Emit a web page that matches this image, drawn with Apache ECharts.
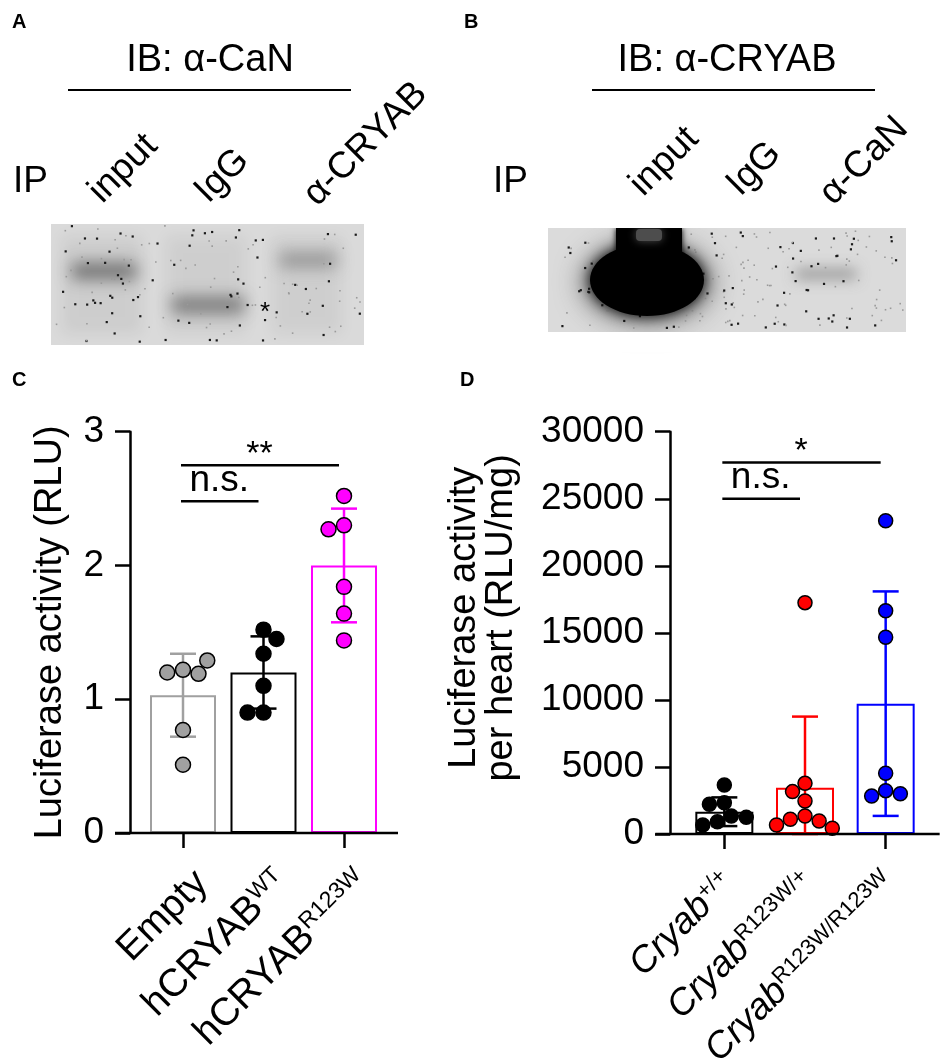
<!DOCTYPE html>
<html>
<head>
<meta charset="utf-8">
<script src="https://cdn.jsdelivr.net/npm/echarts@6.0.0/dist/echarts.min.js"></script>
<style>
  html, body { margin: 0; padding: 0; background: #fff; }
  #main { width: 945px; height: 1064px; }
</style>
</head>
<body>
<div id="main"></div>
<script>
// ---- panel C: luciferase activity in cells (RLU) ----
const luxCategories = ['Empty', 'hCRYAB WT', 'hCRYAB R123W'];
const luxLabelMain = ['Empty', 'hCRYAB', 'hCRYAB'];
const luxLabelSup = ['', 'WT', 'R123W'];
const luxEmpty = [1.22, 1.20, 1.19, 1.29, 0.77, 0.51];
const luxWT = [1.52, 1.45, 1.34, 1.10, 0.90, 0.90];
const luxR123W = [2.52, 2.30, 2.27, 1.84, 1.64, 1.44];
const luxMean = [1.03, 1.20, 2.00];
const luxSD = [0.31, 0.27, 0.425];
const luxTicks = [0, 1, 2, 3];
const luxSigPairs = [[0, 2], [0, 1]];
const luxSigLevels = [2.75, 2.48];
const luxSigLabels = ['**', 'n.s.'];

// ---- panel D: luciferase activity per heart (RLU/mg) ----
const heartCategories = ['Cryab +/+', 'Cryab R123W/+', 'Cryab R123W/R123W'];
const heartLabelMain = ['Cryab', 'Cryab', 'Cryab'];
const heartLabelSup = ['+/+', 'R123W/+', 'R123W/R123W'];
const heartWT = [3650, 2330, 2220, 1340, 1240, 920, 670];
const heartHet = [17250, 3780, 3160, 2460, 1340, 1100, 970, 670, 430];
const heartHom = [23360, 16650, 14670, 4530, 3230, 2830, 3000];
const heartMean = [1660, 3455, 9720];
const heartSD = [1070, 5300, 8370];
const heartTicks = [0, 5000, 10000, 15000, 20000, 25000, 30000];
const heartSigPairs = [[0, 2], [0, 1]];
const heartSigLevels = [27700, 25000];
const heartSigLabels = ['*', 'n.s.'];

const FONT = "'Liberation Sans', Arial, Helvetica, sans-serif";
const luxColors = ['#a0a0a0', '#000000', '#ff00ff'];
const heartColors = ['#000000', '#ff0000', '#0000ff'];

const chart = echarts.init(document.getElementById('main'), null, { renderer: 'canvas' });

function xAxisFor(gridIndex, cats) {
  return {
    gridIndex: gridIndex,
    type: 'category',
    data: cats,
    jitter: 58,
    jitterOverlap: false,
    jitterMargin: 1,
    axisLine: { show: false },
    axisTick: { show: true, alignWithLabel: true, length: 15, lineStyle: { color: '#000', width: 2.5 } },
    axisLabel: { show: false },
    splitLine: { show: false }
  };
}

function yAxisFor(gridIndex, ticks, name, offset, nameGap, namePad) {
  return {
    gridIndex: gridIndex,
    type: 'value',
    min: ticks[0],
    max: ticks[ticks.length - 1],
    interval: ticks[1] - ticks[0],
    offset: offset,
    name: name,
    nameLocation: 'middle',
    nameRotate: 90,
    nameGap: nameGap,
    nameTextStyle: { fontFamily: FONT, fontSize: 38, lineHeight: 37, color: '#000', padding: namePad },
    axisLine: { show: true, lineStyle: { color: '#000', width: 2.5 } },
    axisTick: { show: true, length: 15, lineStyle: { color: '#000', width: 2.5 } },
    axisLabel: { fontFamily: FONT, fontSize: 37, color: '#000', margin: 26, formatter: v => String(v) },
    splitLine: { show: false }
  };
}

function barSeries(axisIndex, means, colors, width) {
  return {
    type: 'bar',
    xAxisIndex: axisIndex, yAxisIndex: axisIndex,
    barWidth: width,
    z: 2,
    data: means.map((m, i) => ({ value: m, itemStyle: { color: '#fff', borderColor: colors[i], borderWidth: 2 } }))
  };
}

function errorSeries(axisIndex, means, sds, colors) {
  return {
    type: 'custom',
    xAxisIndex: axisIndex, yAxisIndex: axisIndex,
    z: 3,
    data: means.map((m, i) => [i, m, sds[i]]),
    encode: { x: 0, y: 1 },
    renderItem: (params, api) => {
      const i = api.value(0), m = api.value(1), sd = api.value(2);
      const top = api.coord([i, m + sd]);
      const bot = api.coord([i, Math.max(0, m - sd)]);
      const hw = 13;
      const st = { stroke: colors[params.dataIndex], lineWidth: 2.5 };
      return {
        type: 'group',
        children: [
          { type: 'line', shape: { x1: top[0], y1: top[1], x2: bot[0], y2: bot[1] }, style: st },
          { type: 'line', shape: { x1: top[0] - hw, y1: top[1], x2: top[0] + hw, y2: top[1] }, style: st },
          { type: 'line', shape: { x1: bot[0] - hw, y1: bot[1], x2: bot[0] + hw, y2: bot[1] }, style: st }
        ]
      };
    }
  };
}

function dotSeries(axisIndex, catIndex, values, color, size) {
  return {
    type: 'scatter',
    xAxisIndex: axisIndex, yAxisIndex: axisIndex,
    z: 4,
    symbolSize: size,
    itemStyle: { color: color, borderColor: '#000', borderWidth: 1.5, opacity: 1 },
    data: values.map(v => [catIndex, v])
  };
}

function sigSeries(axisIndex, pairs, levels, labels) {
  return {
    type: 'custom',
    xAxisIndex: axisIndex, yAxisIndex: axisIndex,
    z: 5,
    data: pairs.map((p, i) => [p[0], p[1], levels[i]]),
    encode: { x: 0, y: 2 },
    renderItem: (params, api) => {
      const a = api.coord([api.value(0), api.value(2)]);
      const b = api.coord([api.value(1), api.value(2)]);
      const label = labels[params.dataIndex];
      const star = label.indexOf('*') >= 0;
      return {
        type: 'group',
        children: [
          { type: 'line', shape: { x1: a[0] - 2, y1: a[1], x2: b[0] - 5, y2: b[1] }, style: { stroke: '#000', lineWidth: 2.5 } },
          {
            type: 'text',
            x: (a[0] + b[0]) / 2 - 4,
            y: a[1] + (star ? 6 : -2),
            style: { text: label, fontFamily: FONT, fontSize: star ? 34 : 37, fill: '#000', align: 'center', verticalAlign: 'bottom' }
          }
        ]
      };
    }
  };
}

chart.setOption({
  animation: false,
  backgroundColor: '#fff',
  grid: [
    { left: 142.75, top: 431.7, width: 241.5, height: 401.3 },
    { left: 684, top: 431.7, width: 242, height: 402.3 }
  ],
  xAxis: [xAxisFor(0, luxCategories), xAxisFor(1, heartCategories)],
  yAxis: [
    yAxisFor(0, luxTicks, 'Luciferase activity (RLU)', 12.75, 61, 0),
    yAxisFor(1, heartTicks, 'Luciferase activity\nper heart (RLU/mg)', 14, 150, [0, 0, 0, 30])
  ],
  series: [
    barSeries(0, luxMean, luxColors, 66),
    errorSeries(0, luxMean, luxSD, luxColors),
    dotSeries(0, 0, luxEmpty, luxColors[0], 15),
    dotSeries(0, 1, luxWT, luxColors[1], 15),
    dotSeries(0, 2, luxR123W, luxColors[2], 15),
    sigSeries(0, luxSigPairs, luxSigLevels, luxSigLabels),
    barSeries(1, heartMean, heartColors, 58),
    errorSeries(1, heartMean, heartSD, heartColors),
    dotSeries(1, 0, heartWT, heartColors[0], 14),
    dotSeries(1, 1, heartHet, heartColors[1], 14),
    dotSeries(1, 2, heartHom, heartColors[2], 14),
    sigSeries(1, heartSigPairs, heartSigLevels, heartSigLabels)
  ]
});

// ---- static figure parts: panel letters, blot images, lane labels ----
function txt(x, y, text, size, opts) {
  return Object.assign({
    type: 'text', x: x, y: y, silent: true, z: 20,
    style: Object.assign({ text: text, fontFamily: FONT, fontSize: size, fill: '#000', align: 'left', verticalAlign: 'middle' }, (opts && opts.style) || {})
  }, opts && opts.rotation ? { rotation: opts.rotation } : {});
}
// soft smudge: only the blurred shadow of an off-screen shape is visible
const SHIFT = 3000;
function smudge(type, shape, color, blur) {
  const s = Object.assign({}, shape);
  if ('x' in s) s.x -= SHIFT;
  if ('cx' in s) s.cx -= SHIFT;
  return { type: type, silent: true, z: 1, shape: s,
    style: { fill: '#000', shadowBlur: blur, shadowColor: color, shadowOffsetX: SHIFT } };
}
// film grain of the scanned blots (fixed pattern)
function grain(x, y, w, h, n, seed) {
  let s = seed;
  const next = () => { s = (s * 1103515245 + 12345) % 2147483648; return s / 2147483648; };
  const out = [];
  for (let k = 0; k < n; k++) {
    const dark = next() < 0.45;
    const sz = dark ? 2.2 : 1.6;
    out.push({ type: 'rect', silent: true, z: 2,
      shape: { x: x + next() * (w - 3), y: y + next() * (h - 3), width: sz, height: sz },
      style: { fill: dark ? '#1a1a1a' : '#9a9a9a' } });
  }
  return out;
}
const R45 = Math.PI / 4;
const statics = [
  txt(12, 22, 'A', 20, { style: { fontWeight: 'bold' } }),
  txt(464, 22, 'B', 20, { style: { fontWeight: 'bold' } }),
  txt(12, 380, 'C', 20, { style: { fontWeight: 'bold' } }),
  txt(460, 380, 'D', 20, { style: { fontWeight: 'bold' } }),

  // panel A blot
  txt(210, 61, 'IB: \u03b1-CaN', 38, { style: { align: 'center' } }),
  { type: 'line', silent: true, shape: { x1: 68, y1: 90, x2: 351, y2: 90 }, style: { stroke: '#000', lineWidth: 2 } },
  txt(13, 182, 'IP', 37),
  txt(95, 197, 'input', 37, { rotation: R45 }),
  txt(201, 197, 'IgG', 37, { rotation: R45 }),
  txt(310, 200, '\u03b1-CRYAB', 37, { rotation: R45 }),
  { type: 'rect', silent: true, z: 0, shape: { x: 51, y: 224, width: 313, height: 121 }, style: { fill: '#dadada' } },
  smudge('rect', { x: 62, y: 236, width: 80, height: 98 }, 'rgba(0,0,0,0.06)', 14),
  smudge('rect', { x: 166, y: 236, width: 80, height: 98 }, 'rgba(0,0,0,0.05)', 14),
  smudge('rect', { x: 272, y: 236, width: 70, height: 98 }, 'rgba(0,0,0,0.05)', 14),
  smudge('rect', { x: 72, y: 263, width: 64, height: 16 }, 'rgba(105,105,105,0.95)', 16),
  smudge('rect', { x: 172, y: 297, width: 72, height: 16 }, 'rgba(110,110,110,0.9)', 16),
  smudge('rect', { x: 280, y: 253, width: 56, height: 14 }, 'rgba(130,130,130,0.8)', 16),
  txt(265, 313, '*', 26, { style: { align: 'center' } }),

  // panel B blot
  txt(727, 61, 'IB: \u03b1-CRYAB', 38, { style: { align: 'center' } }),
  { type: 'line', silent: true, shape: { x1: 592, y1: 90, x2: 875, y2: 90 }, style: { stroke: '#000', lineWidth: 2 } },
  txt(493, 182, 'IP', 37),
  txt(636, 190, 'input', 37, { rotation: R45 }),
  txt(733, 190, 'IgG', 37, { rotation: R45 }),
  txt(826, 199, '\u03b1-CaN', 37, { rotation: R45 }),
  { type: 'rect', silent: true, z: 0, shape: { x: 548, y: 228, width: 358, height: 104 }, style: { fill: '#dbdbdb' } },
  smudge('ellipse', { cx: 647, cy: 282, rx: 66, ry: 42 }, 'rgba(60,60,60,0.6)', 26),
  { type: 'ellipse', silent: true, z: 3, shape: { cx: 647, cy: 280, rx: 57, ry: 36 }, style: { fill: '#000', shadowBlur: 14, shadowColor: '#000' } },
  { type: 'rect', silent: true, z: 3, shape: { x: 616, y: 228, width: 66, height: 36 }, style: { fill: '#000', shadowBlur: 6, shadowColor: '#000' } },
  { type: 'rect', silent: true, z: 3, shape: { x: 636, y: 229, width: 26, height: 12, r: 4 }, style: { fill: '#4d4d4d', shadowBlur: 8, shadowColor: '#4d4d4d' } },
  smudge('rect', { x: 796, y: 269, width: 60, height: 10 }, 'rgba(120,120,120,0.7)', 14),
  { type: 'rect', silent: true, z: 4, shape: { x: 540, y: 206, width: 375, height: 22 }, style: { fill: '#fff' } },
  { type: 'rect', silent: true, z: 4, shape: { x: 540, y: 332, width: 375, height: 20 }, style: { fill: '#fff' } }
].concat(grain(52, 225, 311, 119, 150, 7), grain(549, 229, 356, 102, 220, 19));

// extend the x axis lines past the y axes, as in the original figure
function baseLine(axisIndex, nCats, leftExt, rightExt) {
  const a = chart.convertToPixel({ xAxisIndex: axisIndex, yAxisIndex: axisIndex }, [0, 0]);
  const b = chart.convertToPixel({ xAxisIndex: axisIndex, yAxisIndex: axisIndex }, [nCats - 1, 0]);
  return { type: 'line', silent: true, z: 10, shape: { x1: a[0] - leftExt, y1: a[1], x2: b[0] + rightExt, y2: a[1] },
    style: { stroke: '#000', lineWidth: 2.5 } };
}

// rotated category labels with superscripts, anchored at each tick
function catLabels(axisIndex, main, sup, italic, dx, dy, size, supSize) {
  return main.map((m, i) => {
    const p = chart.convertToPixel({ xAxisIndex: axisIndex, yAxisIndex: axisIndex }, [i, 0]);
    return {
      type: 'text', silent: true, z: 20,
      x: p[0] + dx, y: p[1] + dy, rotation: R45,
      style: {
        text: '{m|' + m + '}' + (sup[i] ? '{s|' + sup[i] + '}' : ''),
        align: 'right', verticalAlign: 'middle',
        rich: {
          m: { fontFamily: FONT, fontSize: size, lineHeight: size, fill: '#000', fontStyle: italic ? 'italic' : 'normal' },
          s: { fontFamily: FONT, fontSize: supSize, lineHeight: supSize, fill: '#000', verticalAlign: 'top' }
        }
      }
    };
  });
}

chart.setOption({
  graphic: statics.concat(
    [baseLine(0, luxCategories.length, 68, 54), baseLine(1, heartCategories.length, 69, 54)],
    catLabels(0, luxLabelMain, luxLabelSup, false, 19, 44, 39, 23),
    catLabels(1, heartLabelMain, heartLabelSup, true, 4, 44, 37, 22)
  )
});

window.addEventListener('resize', chart.resize);
</script>
</body>
</html>
